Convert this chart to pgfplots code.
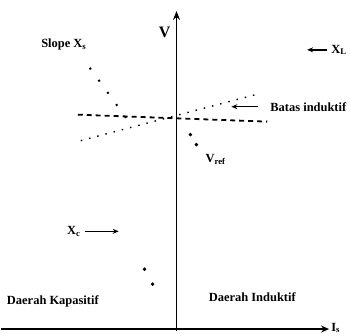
\documentclass[border=0pt]{standalone}
\usepackage{pgfplots}
\pgfplotsset{compat=1.18}
\usepackage{fontspec}
\setmainfont{Liberation Serif}
\usetikzlibrary{arrows.meta}
\tikzset{lbl/.style={font=\bfseries\fontsize{12.5}{13}\selectfont, inner sep=0pt},
  pt/.style={line width=1.4pt, -{Stealth[length=6pt,width=5pt]}}}

\begin{document}
\begin{tikzpicture}
\begin{axis}[
  scale only axis, width=350pt, height=336pt,
  xmin=0, xmax=350, ymin=0, ymax=336,
  axis lines=none, clip=false,
]
% frame so the page is the picture's size
\addplot[draw=none] coordinates {(0,0) (350,336)};
% axes I_s and V
\addplot[black, line width=2pt, -{Stealth[length=8pt,width=7pt]}] coordinates {(0,6) (329,6)};
\addplot[black, line width=2pt, -{Stealth[length=9pt,width=7pt]}] coordinates {(176,4) (176,325)};
% V_ref level, dashed
\addplot[black, line width=1.8pt, dash pattern=on 5pt off 4pt] coordinates {(77,221) (267,214)};
% sloped line through V_ref
\addplot[black, line width=1.4pt, dash pattern=on 1.5pt off 7pt] coordinates {(80,195) (255,241)};
% slope X_s
\addplot[black, line width=2pt, dash pattern=on 2pt off 13pt] coordinates {(89,268) (126,217)};
% stray dots
\addplot[only marks, mark=*, mark size=1.6pt] coordinates {(190,201) (196,191) (144,66) (152,51)};

\node[lbl] at (axis cs:63,291) {Slope X\textsubscript{s}};
\node[lbl, font=\bfseries\fontsize{16}{17}\selectfont] at (axis cs:164,303) {V};
\draw[pt] (axis cs:327,286) -- (axis cs:307,286);
\node[lbl, anchor=west] at (axis cs:331,286) {X\textsubscript{L}};
\draw[pt] (axis cs:258,229) -- (axis cs:231,229);
\node[lbl, anchor=west] at (axis cs:270,228) {Batas induktif};
\node[lbl, anchor=west] at (axis cs:205,176) {V\textsubscript{ref}};
\node[lbl, anchor=west] at (axis cs:66,104) {X\textsubscript{c}};
\draw[pt] (axis cs:84,104) -- (axis cs:118,104);
\node[lbl] at (axis cs:52,34) {Daerah Kapasitif};
\node[lbl] at (axis cs:252,38) {Daerah Induktif};
\node[lbl, anchor=west] at (axis cs:331,7) {I\textsubscript{s}};
\end{axis}
\end{tikzpicture}
\end{document}
